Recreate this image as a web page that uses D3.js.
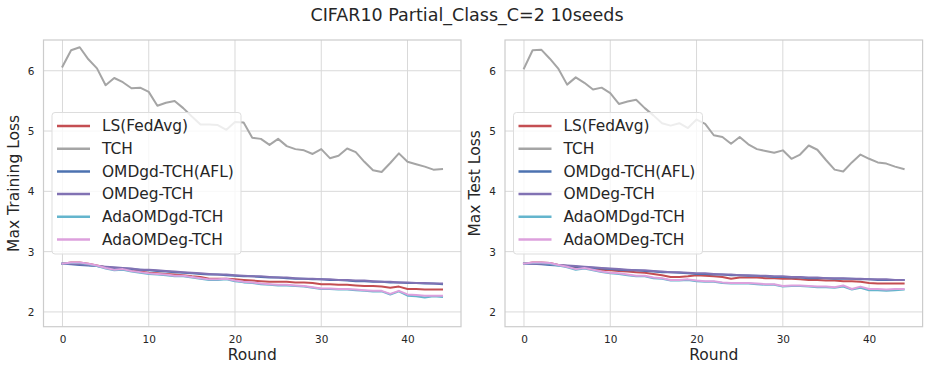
<!DOCTYPE html>
<html>
<head>
<meta charset="utf-8">
<script src="https://cdn.jsdelivr.net/npm/d3@7"></script>
<style>
  body { margin: 0; background: #fff; }
  text { font-family: "DejaVu Sans", sans-serif; fill: #262626; }
</style>
</head>
<body>
<script>
const rounds = d3.range(45);
const seriesNames = ["LS(FedAvg)", "TCH", "OMDgd-TCH(AFL)", "OMDeg-TCH", "AdaOMDgd-TCH", "AdaOMDeg-TCH"];
const seriesColors = ["#c44e52", "#a5a5a5", "#4c72b0", "#8172b3", "#64b5cd", "#dda0dd"];
const xTicks = [0, 10, 20, 30, 40];
const yTicks = [2, 3, 4, 5, 6];

// training loss (left panel)
const trainLS = [2.80, 2.82, 2.82, 2.80, 2.77, 2.74, 2.71, 2.71, 2.69, 2.67, 2.65, 2.64, 2.63, 2.62, 2.61, 2.59, 2.58, 2.55, 2.55, 2.55, 2.54, 2.53, 2.52, 2.51, 2.50, 2.50, 2.50, 2.49, 2.49, 2.48, 2.46, 2.46, 2.45, 2.45, 2.44, 2.43, 2.43, 2.42, 2.40, 2.42, 2.38, 2.38, 2.37, 2.37, 2.37];
const trainTCH = [6.07, 6.34, 6.39, 6.19, 6.04, 5.76, 5.88, 5.81, 5.71, 5.72, 5.65, 5.42, 5.47, 5.50, 5.38, 5.24, 5.11, 5.11, 5.10, 5.02, 5.15, 5.14, 4.89, 4.87, 4.77, 4.87, 4.75, 4.70, 4.68, 4.62, 4.70, 4.55, 4.59, 4.71, 4.65, 4.49, 4.35, 4.32, 4.47, 4.63, 4.49, 4.45, 4.41, 4.36, 4.37];
const trainOMDgd = [2.80, 2.79, 2.78, 2.77, 2.76, 2.74, 2.73, 2.72, 2.71, 2.70, 2.69, 2.68, 2.67, 2.66, 2.65, 2.64, 2.63, 2.62, 2.62, 2.61, 2.60, 2.59, 2.59, 2.58, 2.57, 2.57, 2.56, 2.55, 2.55, 2.54, 2.54, 2.53, 2.53, 2.52, 2.51, 2.51, 2.50, 2.50, 2.49, 2.49, 2.48, 2.48, 2.47, 2.47, 2.46];
const trainOMDeg = [2.80, 2.80, 2.79, 2.78, 2.76, 2.75, 2.74, 2.73, 2.72, 2.70, 2.70, 2.69, 2.68, 2.67, 2.66, 2.65, 2.64, 2.63, 2.62, 2.62, 2.61, 2.60, 2.59, 2.59, 2.58, 2.57, 2.57, 2.56, 2.55, 2.55, 2.54, 2.54, 2.53, 2.53, 2.52, 2.52, 2.51, 2.50, 2.50, 2.49, 2.49, 2.48, 2.48, 2.47, 2.47];
const trainAdaGd = [2.80, 2.81, 2.81, 2.79, 2.76, 2.72, 2.69, 2.70, 2.67, 2.65, 2.63, 2.62, 2.61, 2.59, 2.59, 2.57, 2.55, 2.53, 2.53, 2.54, 2.51, 2.49, 2.48, 2.46, 2.45, 2.44, 2.44, 2.43, 2.42, 2.40, 2.38, 2.38, 2.37, 2.37, 2.36, 2.35, 2.34, 2.34, 2.29, 2.34, 2.27, 2.26, 2.24, 2.26, 2.25];
const trainAdaEg = [2.80, 2.82, 2.82, 2.80, 2.77, 2.73, 2.70, 2.71, 2.68, 2.66, 2.64, 2.63, 2.62, 2.60, 2.60, 2.58, 2.56, 2.54, 2.54, 2.55, 2.52, 2.50, 2.49, 2.47, 2.46, 2.45, 2.45, 2.44, 2.43, 2.41, 2.39, 2.39, 2.38, 2.38, 2.37, 2.36, 2.35, 2.35, 2.30, 2.35, 2.29, 2.28, 2.27, 2.27, 2.27];

// test loss (right panel)
const testLS = [2.80, 2.82, 2.82, 2.81, 2.78, 2.76, 2.74, 2.74, 2.72, 2.70, 2.69, 2.68, 2.67, 2.66, 2.65, 2.63, 2.61, 2.58, 2.58, 2.59, 2.61, 2.60, 2.59, 2.58, 2.55, 2.57, 2.57, 2.57, 2.56, 2.56, 2.55, 2.55, 2.54, 2.53, 2.53, 2.52, 2.52, 2.51, 2.51, 2.50, 2.48, 2.47, 2.47, 2.47, 2.47];
const testTCH = [6.04, 6.34, 6.35, 6.20, 6.03, 5.77, 5.89, 5.80, 5.69, 5.72, 5.63, 5.45, 5.49, 5.52, 5.38, 5.26, 5.13, 5.09, 5.13, 5.05, 5.19, 5.12, 4.93, 4.90, 4.79, 4.90, 4.78, 4.70, 4.67, 4.64, 4.68, 4.54, 4.61, 4.76, 4.69, 4.52, 4.36, 4.33, 4.48, 4.61, 4.54, 4.48, 4.46, 4.41, 4.37];
const testOMDgd = [2.80, 2.80, 2.79, 2.78, 2.77, 2.76, 2.75, 2.74, 2.73, 2.72, 2.71, 2.70, 2.69, 2.69, 2.68, 2.67, 2.66, 2.66, 2.65, 2.64, 2.63, 2.63, 2.62, 2.62, 2.61, 2.61, 2.60, 2.60, 2.59, 2.58, 2.58, 2.57, 2.57, 2.56, 2.56, 2.56, 2.55, 2.55, 2.55, 2.54, 2.54, 2.53, 2.53, 2.53, 2.53];
const testOMDeg = [2.80, 2.80, 2.80, 2.79, 2.78, 2.77, 2.76, 2.75, 2.74, 2.73, 2.72, 2.71, 2.70, 2.69, 2.69, 2.68, 2.67, 2.66, 2.66, 2.65, 2.64, 2.64, 2.63, 2.62, 2.62, 2.61, 2.61, 2.60, 2.60, 2.59, 2.59, 2.58, 2.58, 2.57, 2.57, 2.56, 2.56, 2.56, 2.55, 2.55, 2.54, 2.54, 2.54, 2.53, 2.53];
const testAdaGd = [2.80, 2.81, 2.81, 2.80, 2.77, 2.74, 2.70, 2.72, 2.69, 2.66, 2.64, 2.63, 2.61, 2.59, 2.59, 2.56, 2.55, 2.52, 2.52, 2.53, 2.51, 2.50, 2.50, 2.48, 2.47, 2.47, 2.47, 2.46, 2.45, 2.45, 2.42, 2.43, 2.43, 2.42, 2.41, 2.41, 2.40, 2.42, 2.37, 2.40, 2.36, 2.36, 2.35, 2.36, 2.37];
const testAdaEg = [2.80, 2.82, 2.82, 2.81, 2.78, 2.75, 2.71, 2.73, 2.70, 2.67, 2.65, 2.64, 2.62, 2.60, 2.60, 2.57, 2.56, 2.53, 2.53, 2.54, 2.52, 2.51, 2.51, 2.49, 2.48, 2.48, 2.48, 2.47, 2.46, 2.46, 2.43, 2.44, 2.44, 2.43, 2.42, 2.42, 2.41, 2.44, 2.38, 2.42, 2.38, 2.38, 2.37, 2.38, 2.38];

const trainSeries = [trainLS, trainTCH, trainOMDgd, trainOMDeg, trainAdaGd, trainAdaEg];
const testSeries = [testLS, testTCH, testOMDgd, testOMDeg, testAdaGd, testAdaEg];

const width = 934, height = 374;
const svg = d3.select("body").append("svg")
  .attr("width", width)
  .attr("height", height);

svg.append("text")
  .attr("x", 467)
  .attr("y", 21)
  .attr("text-anchor", "middle")
  .attr("font-size", 17.5)
  .text("CIFAR10 Partial_Class_C=2 10seeds");

function drawPanel(left, right, ylabel, series) {
  const top = 40, bottom = 326.7;
  const x = d3.scaleLinear().domain([-2.2, 46.2]).range([left, right]);
  const y = d3.scaleLinear().domain([1.755, 6.51]).range([bottom, top]);

  const g = svg.append("g");

  // grid
  g.append("g").selectAll("line")
    .data(xTicks)
    .join("line")
    .attr("x1", d => x(d)).attr("x2", d => x(d))
    .attr("y1", top).attr("y2", bottom)
    .attr("stroke", "#d9d9d9").attr("stroke-width", 1);
  g.append("g").selectAll("line")
    .data(yTicks)
    .join("line")
    .attr("x1", left).attr("x2", right)
    .attr("y1", d => y(d)).attr("y2", d => y(d))
    .attr("stroke", "#d9d9d9").attr("stroke-width", 1);

  // axes (labels only, no tick marks)
  const xAxis = g.append("g")
    .attr("transform", `translate(0,${bottom})`)
    .call(d3.axisBottom(x).tickValues(xTicks).tickSize(0).tickPadding(9));
  const yAxis = g.append("g")
    .attr("transform", `translate(${left},0)`)
    .call(d3.axisLeft(y).tickValues(yTicks).tickFormat(d3.format("d")).tickSize(0).tickPadding(9));
  [xAxis, yAxis].forEach(a => {
    a.select(".domain").remove();
    a.selectAll("text").attr("font-size", 10.5).attr("fill", "#262626")
      .attr("font-family", "DejaVu Sans, sans-serif");
  });

  // frame
  g.append("rect")
    .attr("x", left).attr("y", top)
    .attr("width", right - left).attr("height", bottom - top)
    .attr("fill", "none").attr("stroke", "#cccccc").attr("stroke-width", 1.2);

  // lines
  const line = d3.line().x((d, i) => x(rounds[i])).y(d => y(d));
  g.append("g").selectAll("path")
    .data(series)
    .join("path")
    .attr("d", line)
    .attr("fill", "none")
    .attr("stroke", (d, i) => seriesColors[i])
    .attr("stroke-width", 2)
    .attr("stroke-linejoin", "round")
    .attr("stroke-linecap", "square");

  // axis labels
  svg.append("text")
    .attr("x", (left + right) / 2)
    .attr("y", 360)
    .attr("text-anchor", "middle")
    .attr("font-size", 15.5)
    .text("Round");
  svg.append("text")
    .attr("transform", `translate(${left - 25},${(top + bottom) / 2}) rotate(-90)`)
    .attr("text-anchor", "middle")
    .attr("font-size", 15.5)
    .text(ylabel);

  // legend
  const lg = g.append("g").attr("transform", `translate(${left + 8.5},112.5)`);
  lg.append("rect")
    .attr("width", 189).attr("height", 141.5)
    .attr("rx", 3)
    .attr("fill", "#ffffff").attr("fill-opacity", 0.8)
    .attr("stroke", "#dddddd").attr("stroke-width", 1);
  const items = lg.selectAll("g.item")
    .data(seriesNames)
    .join("g")
    .attr("class", "item")
    .attr("transform", (d, i) => `translate(0,${13.5 + i * 22.7})`);
  items.append("line")
    .attr("x1", 5).attr("x2", 38)
    .attr("stroke", (d, i) => seriesColors[i])
    .attr("stroke-width", 2.5);
  items.append("text")
    .attr("x", 50)
    .attr("dy", "0.35em")
    .attr("font-size", 15.4)
    .text(d => d);
}

drawPanel(43.5, 461, "Max Training Loss", trainSeries);
drawPanel(505, 922.6, "Max Test Loss", testSeries);
</script>
</body>
</html>
